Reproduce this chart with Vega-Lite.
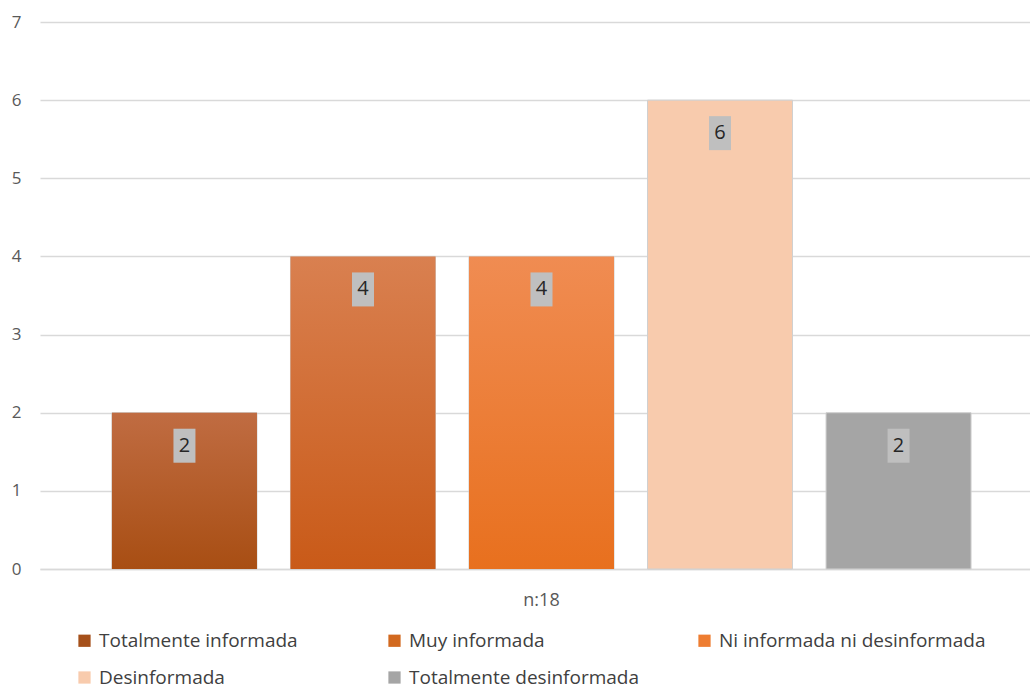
{
  "$schema": "https://vega.github.io/schema/vega-lite/v6.json",
  "width": 1003,
  "height": 547,
  "autosize": {"type": "none"},
  "padding": {"left": 40, "top": 22, "right": 0, "bottom": 119},
  "background": "#ffffff",
  "config": {
    "view": {"stroke": null},
    "font": "Open Sans"
  },
  "data": {
    "values": [
      {"grupo": "n:18", "categoria": "Totalmente informada", "personas": 2},
      {"grupo": "n:18", "categoria": "Muy informada", "personas": 4},
      {"grupo": "n:18", "categoria": "Ni informada ni desinformada", "personas": 4},
      {"grupo": "n:18", "categoria": "Desinformada", "personas": 6},
      {"grupo": "n:18", "categoria": "Totalmente desinformada", "personas": 2}
    ]
  },
  "encoding": {
    "x": {
      "field": "grupo",
      "type": "nominal",
      "scale": {"paddingInner": 0, "paddingOuter": 0},
      "axis": {
        "title": null,
        "labelAngle": 0,
        "labelFontSize": 18,
        "labelColor": "#595959",
        "labelPadding": 22,
        "ticks": false,
        "domainColor": "#d9d9d9",
        "domainWidth": 1.5
      }
    },
    "xOffset": {
      "field": "categoria",
      "type": "nominal",
      "sort": ["Totalmente informada", "Muy informada", "Ni informada ni desinformada", "Desinformada", "Totalmente desinformada"],
      "scale": {"paddingInner": 0.1877, "paddingOuter": 0.403}
    },
    "y": {
      "field": "personas",
      "type": "quantitative",
      "scale": {"domain": [0, 7], "nice": false},
      "axis": {
        "title": null,
        "values": [0, 1, 2, 3, 4, 5, 6, 7],
        "labelFontSize": 17,
        "labelColor": "#595959",
        "labelPadding": 19,
        "ticks": false,
        "domain": false,
        "gridColor": "#d9d9d9",
        "gridWidth": 1.5
      }
    }
  },
  "layer": [
    {
      "mark": {"type": "bar", "stroke": "#d0d0d0", "strokeWidth": 1},
      "encoding": {
        "color": {
          "field": "categoria",
          "type": "nominal",
          "sort": ["Totalmente informada", "Muy informada", "Ni informada ni desinformada", "Desinformada", "Totalmente desinformada"],
          "scale": {
            "domain": ["Totalmente informada", "Muy informada", "Ni informada ni desinformada", "Desinformada", "Totalmente desinformada"],
            "range": ["#a5501a", "#d2691f", "#ee7d31", "#f8cbad", "#a5a5a5"]
          },
          "legend": {
            "title": null,
            "orient": "none",
            "legendX": 35,
            "legendY": 609,
            "direction": "horizontal",
            "columns": 3,
            "gridAlign": "all",
            "columnPadding": 19,
            "rowPadding": 17,
            "symbolType": "square",
            "symbolSize": 150,
            "symbolStrokeWidth": 0,
            "labelOffset": 5,
            "labelFontSize": 19,
            "labelColor": "#404040",
            "labelLimit": 0
          }
        }
      }
    },
    {
      "transform": [{"filter": "datum.categoria === 'Totalmente informada'"}],
      "mark": {
        "type": "bar",
        "color": {
          "gradient": "linear", "x1": 0, "y1": 0, "x2": 0, "y2": 1,
          "stops": [{"offset": 0, "color": "#c06c42"}, {"offset": 1, "color": "#a84e13"}]
        }
      }
    },
    {
      "transform": [{"filter": "datum.categoria === 'Muy informada'"}],
      "mark": {
        "type": "bar",
        "color": {
          "gradient": "linear", "x1": 0, "y1": 0, "x2": 0, "y2": 1,
          "stops": [{"offset": 0, "color": "#d98050"}, {"offset": 1, "color": "#c95a18"}]
        }
      }
    },
    {
      "transform": [{"filter": "datum.categoria === 'Ni informada ni desinformada'"}],
      "mark": {
        "type": "bar",
        "color": {
          "gradient": "linear", "x1": 0, "y1": 0, "x2": 0, "y2": 1,
          "stops": [{"offset": 0, "color": "#f08c52"}, {"offset": 1, "color": "#e8701e"}]
        }
      }
    },
    {
      "mark": {
        "type": "point",
        "shape": "M-0.55,0.8H0.55V2.5H-0.55Z",
        "size": 1600,
        "filled": true,
        "color": "#bfbfbf",
        "opacity": 1,
        "strokeWidth": 0
      }
    },
    {
      "mark": {
        "type": "text",
        "dy": 33,
        "baseline": "middle",
        "align": "center",
        "fontSize": 20,
        "color": "#262626"
      },
      "encoding": {"text": {"field": "personas", "type": "quantitative"}}
    }
  ]
}
